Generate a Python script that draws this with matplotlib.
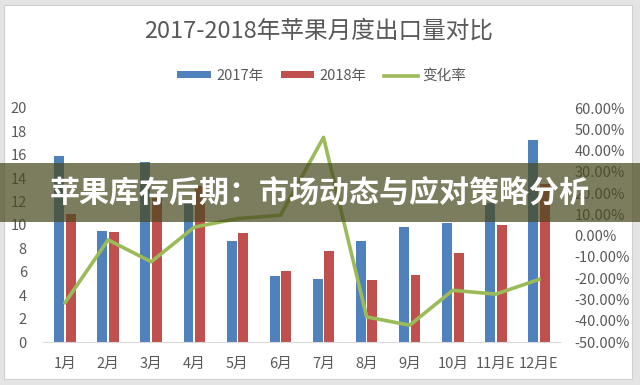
import matplotlib.pyplot as plt
import numpy as np
from matplotlib.patches import Rectangle
from matplotlib.ticker import FuncFormatter

plt.rcParams['font.family'] = ['Noto Sans CJK SC', 'DejaVu Sans']

months = ['1月', '2月', '3月', '4月', '5月', '6月', '7月', '8月', '9月', '10月', '11月E', '12月E']
export_2017 = [15.9, 9.5, 15.4, 11.9, 8.6, 5.6, 5.4, 8.6, 9.8, 10.2, 11.9, 17.3]
export_2018 = [10.9, 9.4, 12.3, 13.3, 9.3, 6.1, 7.8, 5.3, 5.7, 7.6, 10.0, 13.5]
change_rate = [-31.5, -2.0, -12.3, 4.0, 8.0, 9.6, 46.2, -38.2, -42.1, -25.7, -27.5, -20.6]

BLUE = '#4F81BD'
RED = '#C0504D'
GREEN = '#9BBB59'
GREY_TXT = '#595959'

fig = plt.figure(figsize=(6.4, 3.85), dpi=100, facecolor='#e4e4e4')
fig.patches.append(Rectangle((4 / 640, 1 - 379 / 385), 628 / 640, 374 / 385,
                             transform=fig.transFigure, facecolor='white',
                             edgecolor='#d0d0d0', lw=0.8, zorder=-1))

ax = fig.add_axes([43.5 / 640, 1 - 342 / 385, 517 / 640, 234 / 385])
ax.set_facecolor('none')
x = np.arange(len(months))
w = 0.23
ax.bar(x - 0.135, export_2017, w, color=BLUE, label='2017年', zorder=2)
ax.bar(x + 0.135, export_2018, w, color=RED, label='2018年', zorder=2)
ax.set_xlim(-0.5, len(months) - 0.5)
ax.set_ylim(0, 20)
ax.set_yticks(np.arange(0, 21, 2))
ax.set_xticks(x)
ax.set_xticklabels(months)
for s in ['top', 'right', 'left']:
    ax.spines[s].set_visible(False)
ax.spines['bottom'].set_color('#d9d9d9')
ax.tick_params(axis='both', length=0, colors=GREY_TXT, labelsize=10.5)
ax.tick_params(axis='y', pad=12)
ax.tick_params(axis='x', pad=11)

ax2 = ax.twinx()
ax2.plot(x, change_rate, color=GREEN, lw=2.6, label='变化率', zorder=3)
ax2.set_ylim(-50, 60)
ax2.set_yticks(np.arange(-50, 61, 10))
ax2.yaxis.set_major_formatter(FuncFormatter(lambda v, _: f'{v:.2f}%'))
for s in ax2.spines.values():
    s.set_visible(False)
ax2.tick_params(axis='y', length=0, colors=GREY_TXT, labelsize=10.5, pad=10)

fig.text(319 / 640, 1 - 31 / 385, '2017-2018年苹果月度出口量对比', ha='center', va='center',
         fontsize=17, color=GREY_TXT)

handles = ax.get_legend_handles_labels()[0] + ax2.get_legend_handles_labels()[0]
fig.legend(handles, ['2017年', '2018年', '变化率'], loc='center', ncol=3,
           bbox_to_anchor=(322 / 640, 1 - 76 / 385), frameon=False, fontsize=10.5,
           labelcolor=GREY_TXT, handlelength=2.3, handleheight=0.35,
           handletextpad=0.35, columnspacing=1.2)

# overlay banner
fig.patches.append(Rectangle((0, 1 - 222 / 385), 1, 59 / 385, transform=fig.transFigure,
                             facecolor='#4a4a20', alpha=0.72, edgecolor='none', zorder=5))
fig.text(319.5 / 640, 1 - 193 / 385, '苹果库存后期：市场动态与应对策略分析', ha='center',
         va='center', fontsize=21.6, fontweight='bold', color='white', zorder=6)

fig.savefig('out.png', dpi=100, facecolor=fig.get_facecolor())
